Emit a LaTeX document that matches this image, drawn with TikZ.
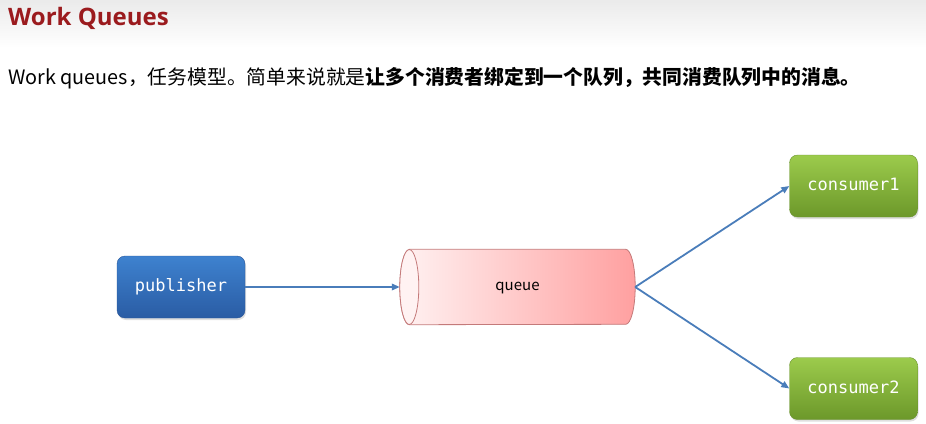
\documentclass[tikz,border=0pt]{standalone}
\usepackage{fontspec}
\setmainfont{Open Sans}
\newfontfamily\cjk{Noto Sans CJK SC}
\newfontfamily\codefont{DejaVu Sans Mono}
\usepackage{xcolor}
\usetikzlibrary{positioning,arrows.meta,backgrounds,shadows}
\definecolor{cTitle}{HTML}{9B1B1E}
\definecolor{cPubTop}{HTML}{3E82CF}
\definecolor{cPubBot}{HTML}{2A5CA4}
\definecolor{cPubBorder}{HTML}{2A5699}
\definecolor{cConTop}{HTML}{9CCB4C}
\definecolor{cConBot}{HTML}{6C982A}
\definecolor{cConBorder}{HTML}{6A9230}
\definecolor{cQueueL}{HTML}{FFF2F2}
\definecolor{cQueueR}{HTML}{FFA0A0}
\definecolor{cQueueBorder}{HTML}{C47A7A}
\definecolor{cArrow}{HTML}{4A7DBA}

\begin{document}
\begin{tikzpicture}[
  x=1pt, y=1pt,
  every node/.style={inner sep=0pt},
  actor/.style={rounded corners=8pt, minimum width=128pt, minimum height=62pt,
                font=\codefont\fontsize{17}{20}\selectfont, text=white,
                text height=12pt, text depth=3pt,
                drop shadow={shadow xshift=1pt, shadow yshift=-2pt, opacity=0.25}},
  pubbox/.style={actor, draw=cPubBorder, top color=cPubTop, bottom color=cPubBot},
  conbox/.style={actor, draw=cConBorder, top color=cConTop, bottom color=cConBot},
  arr/.style={-{Triangle[length=8pt,width=6.5pt]}, draw=cArrow, line width=1.8pt},
]
  \useasboundingbox (0,0) rectangle (926,-423);
  % header band
  \shade[top color=black!8, bottom color=white] (0,0) rectangle (926,-48);

  \node[anchor=base west, font=\bfseries\fontsize{24}{28}\selectfont, text=cTitle] (title) at (8,-25) {Work Queues};
  \node[anchor=base west, font=\cjk\fontsize{19.8}{24}\selectfont] (intro) at (8,-84)
    {Work queues，任务模型。简单来说就是\textbf{让多个消费者绑定到一个队列，共同消费队列中的消息。}};

  \node[pubbox] (pub) at (181,-287) {publisher};
  \node[minimum width=235pt, minimum height=75pt, text height=11pt, text depth=4pt,
        font=\cjk\fontsize{15}{18}\selectfont] (queue) at (517.5,-287) {queue};
  \node[conbox] (con1) at (853.5,-186) {consumer1};
  \node[conbox] (con2) at (853.5,-388.5) {consumer2};

  % queue cylinder
  \begin{scope}[on background layer]
    \shade[left color=cQueueL, right color=cQueueR, draw=cQueueBorder, line width=0.8pt]
      ([xshift=9.5pt]queue.north west) -- ([xshift=-9.5pt]queue.north east)
      arc (90:-90:9.5pt and 37.5pt) -- ([xshift=9.5pt]queue.south west)
      arc (270:90:9.5pt and 37.5pt) -- cycle;
    \draw[fill=cQueueL, draw=cQueueBorder, line width=0.8pt]
      ([xshift=9.5pt]queue.west) ellipse (9.5pt and 37.5pt);
  \end{scope}

  \draw[arr] (pub) -- (queue.west);
  \draw[arr] (queue.east) -- (con1.west);
  \draw[arr] (queue.east) -- (con2.west);
\end{tikzpicture}
\end{document}
